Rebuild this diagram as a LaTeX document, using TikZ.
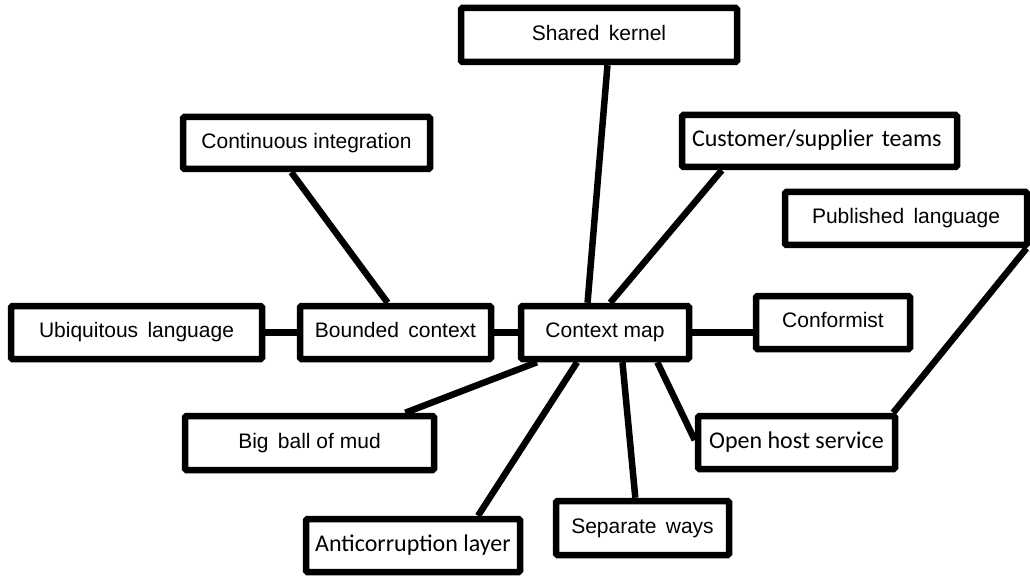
\documentclass[tikz,border=0pt]{standalone}
\usepackage{fontspec}
\setmainfont{Liberation Sans}
\newfontfamily\cbrfont{Carlito}
\usetikzlibrary{calc,backgrounds}
\tikzset{
  box/.style={draw=black, line width=6.5pt, fill=white, rounded corners=1.5pt,
    inner sep=0pt, text height=15pt, text depth=4.5pt, font=\fontsize{21}{24}\selectfont},
  cbox/.style={box, text height=16pt, text depth=5pt, font=\cbrfont\fontsize{24}{27}\selectfont},
  conn/.style={draw=black, line width=6.5pt}
}
\begin{document}
\begin{tikzpicture}[x=1pt,y=-1pt]
\useasboundingbox (0,0) rectangle (1030,577);

\node[box, minimum width=276, minimum height=54] (sk) at (599,35) {Shared\, kernel};
\node[box, minimum width=247, minimum height=52] (ci) at (306.5,143) {Continuous integration};
\node[cbox, minimum width=275, minimum height=52, text width=255, align=left] (cs) at (819.5,141) {Customer/supplier teams};
\node[box, minimum width=242, minimum height=53] (pl) at (906,218.5) {Published\, language};
\node[box, minimum width=251, minimum height=53] (ul) at (136.5,332.5) {Ubiquitous\, language};
\node[box, minimum width=191, minimum height=53] (bc) at (395.5,332.5) {Bounded\, context};
\node[box, minimum width=168, minimum height=53] (cm) at (605,332.5) {Context map};
\node[box, minimum width=154, minimum height=53] (cf) at (833,322.5) {Conformist};
\node[box, minimum width=249, minimum height=54] (bb) at (309.5,443) {Big\, ball of mud};
\node[cbox, minimum width=197, minimum height=53] (oh) at (796.5,442.5) {Open host service};
\node[cbox, minimum width=214, minimum height=53] (ac) at (413,545.5) {Anticorruption layer};
\node[box, minimum width=173, minimum height=54] (sw) at (642.5,528) {Separate\, ways};

\begin{pgfonlayer}{background}
\fill[white] (0,0) rectangle (1030,577);
\draw[conn] ($(sk.south west)!0.53!(sk.south east)$) -- ($(cm.north west)!0.40!(cm.north east)$);
\draw[conn] ($(cs.south west)!0.153!(cs.south east)$) -- ($(cm.north west)!0.53!(cm.north east)$);
\draw[conn] ($(ci.south west)!0.44!(ci.south east)$) -- ($(bc.north west)!0.46!(bc.north east)$);
\draw[conn] (ul.east) -- (bc.west);
\draw[conn] (bc.east) -- (cm.west);
\draw[conn] (cm.east) -- (cm.east -| cf.west);
\draw[conn] ($(pl.south west)!0.985!(pl.south east)$) -- ($(oh.north west)!0.975!(oh.north east)$);
\draw[conn] ($(cm.south west)!0.11!(cm.south east)$) -- ($(bb.north west)!0.875!(bb.north east)$);
\draw[conn] ($(cm.south west)!0.34!(cm.south east)$) -- ($(ac.north west)!0.795!(ac.north east)$);
\draw[conn] ($(cm.south west)!0.60!(cm.south east)$) -- ($(sw.north west)!0.46!(sw.north east)$);
\draw[conn] ($(cm.south west)!0.80!(cm.south east)$) -- ($(oh.north west)!0.46!(oh.south west)$);
\end{pgfonlayer}
\end{tikzpicture}
\end{document}
